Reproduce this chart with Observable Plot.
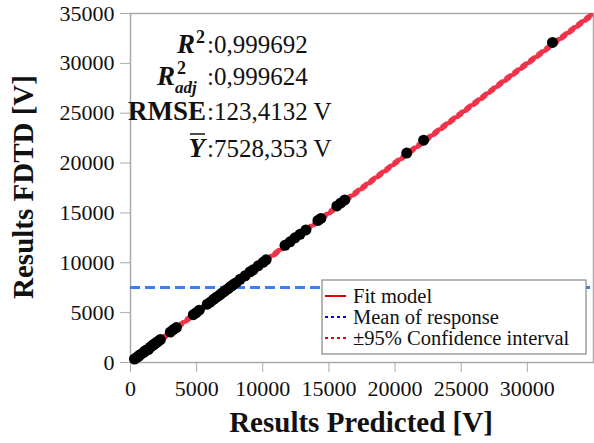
<!DOCTYPE html>
<html><head><meta charset="utf-8">
<script src="https://cdn.jsdelivr.net/npm/d3@7"></script>
<script src="https://cdn.jsdelivr.net/npm/@observablehq/plot@0.6"></script>
<style>body{margin:0;background:#fff}</style>
</head><body><div id="chart"></div>
<script>
// Data
const predicted = [300,450,600,650,750,980,1100,1200,1350,1500,1650,1730,1850,1960,2110,2260,3010,3240,3470,4750,4970,5200,5800,6030,6250,6400,6560,6780,6900,7080,7200,7390,7550,7690,7800,7990,8290,8670,9040,9270,9650,10020,10250,11680,12060,12430,12810,13260,14170,14390,15600,15900,16200,20880,22160,31900];
const fdtd      = [350,500,620,700,800,1000,1150,1250,1300,1550,1700,1780,1900,2000,2150,2300,3050,3300,3500,4800,5000,5250,5850,6050,6300,6450,6600,6800,6950,7100,7250,7400,7600,7700,7850,8000,8350,8700,9100,9300,9700,10050,10300,11750,12100,12500,12850,13300,14250,14450,15700,16000,16300,21000,22300,32100];
const xTicks = [0,5000,10000,15000,20000,25000,30000];
const yTicks = [0,5000,10000,15000,20000,25000,30000,35000];
const fitX = [0, 35000];
const fitY = [0, 35000];
const ciHalfWidth = 180;
const meanY = 7528.353;
const statValues = [":0,999692", ":0,999624", ":123,4132 V", ":7528,353 V"];
const legendLabels = ["Fit model", "Mean of response", "±95% Confidence interval"];
const legendColors = ["#dd0000", "#0000ff", "#ee0000"];
const legendDash = [null, "3,3", "3,3"];

const points = predicted.map((p, i) => ({p, f: fdtd[i]}));
const fit = fitX.map((x, i) => ({x, y: fitY[i], lo: fitY[i] - ciHalfWidth, hi: fitY[i] + ciHalfWidth}));
const fitColor = "#f0334a";
const ff = "'Liberation Serif', serif";

const plot = Plot.plot({
  width: 594, height: 443,
  marginLeft: 130, marginRight: 1, marginTop: 13, marginBottom: 81,
  x: {domain: [0, 35000]},
  y: {domain: [0, 35000]},
  style: {fontFamily: ff, fontSize: "22px", color: "#111", background: "#fff"},
  marks: [
    Plot.frame({stroke: "#aaa", strokeWidth: 1.5}),
    Plot.axisX({ticks: xTicks, tickSize: 10, tickPadding: 8, stroke: "#aaa", fill: "#111", label: null, fontFamily: ff, fontSize: 22, tickFormat: d => String(d)}),
    Plot.axisY({ticks: yTicks, tickSize: 10, tickPadding: 6, stroke: "#aaa", fill: "#111", label: null, fontFamily: ff, fontSize: 22, tickFormat: d => String(d)}),
    Plot.ruleY([meanY], {stroke: "#3b7ff5", strokeWidth: 3, strokeDasharray: "10,5"}),
    Plot.line(fit, {x: "x", y: "y", stroke: fitColor, strokeWidth: 4, clip: true}),
    Plot.line(fit, {x: "x", y: "lo", stroke: fitColor, strokeWidth: 3, strokeDasharray: "5,5", clip: true}),
    Plot.line(fit, {x: "x", y: "hi", stroke: fitColor, strokeWidth: 3, strokeDasharray: "5,5", clip: true}),
    Plot.dot(points, {x: "p", y: "f", r: 5.5, fill: "#000", stroke: "none"})
  ]
});
document.getElementById("chart").append(plot);

const svg = d3.select(plot);
// axis titles
svg.append("text").attr("x", 361).attr("y", 432).attr("text-anchor", "middle")
  .attr("font-family", ff).attr("font-weight", "bold").attr("font-size", 29).attr("fill", "#111")
  .text("Results Predicted [V]");
svg.append("text").attr("transform", "translate(33,187) rotate(-90)").attr("text-anchor", "middle")
  .attr("font-family", ff).attr("font-weight", "bold").attr("font-size", 29).attr("fill", "#111")
  .text("Results FDTD [V]");

// statistics annotation
const ann = svg.append("g").attr("font-family", ff).attr("fill", "#111").attr("text-anchor", "start");
const colonX = 207;
const baselines = [53, 85, 120, 157];
// R^2
ann.append("text").attr("y", baselines[0]).attr("text-anchor", "end").attr("font-size", 27)
  .attr("x", 195).attr("font-style", "italic").attr("font-weight", "bold").text("R");
ann.append("text").attr("x", 196).attr("y", baselines[0] - 10).attr("font-size", 18).attr("font-weight", "bold").text("2");
// R^2_adj
ann.append("text").attr("x", 175).attr("y", baselines[1]).attr("text-anchor", "end").attr("font-size", 27)
  .attr("font-style", "italic").attr("font-weight", "bold").text("R");
ann.append("text").attr("x", 177).attr("y", baselines[1] - 11).attr("font-size", 18).attr("font-weight", "bold").text("2");
ann.append("text").attr("x", 175).attr("y", baselines[1] + 8).attr("font-size", 17)
  .attr("font-style", "italic").attr("font-weight", "bold").text("adj");
// RMSE
ann.append("text").attr("x", colonX - 1).attr("y", baselines[2]).attr("text-anchor", "end").attr("font-size", 27)
  .attr("font-weight", "bold").text("RMSE");
// Y bar
ann.append("text").attr("x", colonX - 2).attr("y", baselines[3]).attr("text-anchor", "end").attr("font-size", 27)
  .attr("font-style", "italic").attr("font-weight", "bold").text("Y");
ann.append("line").attr("x1", 190).attr("x2", 205).attr("y1", 134).attr("y2", 134).attr("stroke", "#111").attr("stroke-width", 1.5);
statValues.forEach((v, i) => {
  ann.append("text").attr("x", colonX).attr("y", baselines[i]).attr("font-size", 25).text(v);
});

// legend
const lg = svg.append("g").attr("font-family", ff).attr("text-anchor", "start");
lg.append("rect").attr("x", 322).attr("y", 280).attr("width", 264).attr("height", 74)
  .attr("fill", "#fff").attr("stroke", "#888").attr("stroke-width", 1.2);
legendLabels.forEach((lab, i) => {
  const yb = 303 + i * 21;
  const l = lg.append("line").attr("x1", 325).attr("x2", 346).attr("y1", yb - 7).attr("y2", yb - 7)
    .attr("stroke", legendColors[i]).attr("stroke-width", 2);
  if (legendDash[i]) l.attr("stroke-dasharray", legendDash[i]);
  lg.append("text").attr("x", 353).attr("y", yb).attr("font-size", 20.5).attr("fill", "#111").text(lab);
});
</script>
</body></html>
